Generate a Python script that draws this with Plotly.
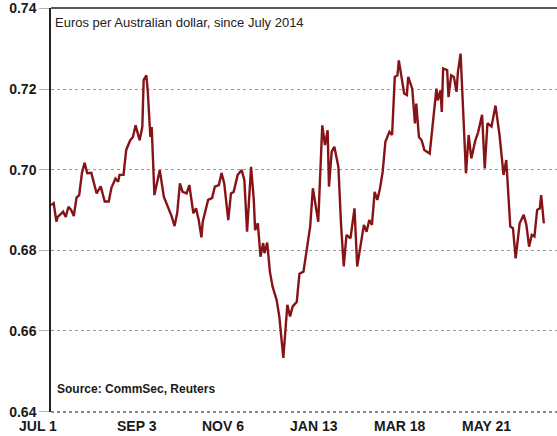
import plotly.graph_objects as go

# Euros per Australian dollar, July 2014 - July 2015
dates = [
    "2014-07-01", "2014-07-03", "2014-07-05", "2014-07-06", "2014-07-09", "2014-07-10",
    "2014-07-12", "2014-07-14", "2014-07-16", "2014-07-18", "2014-07-20", "2014-07-22",
    "2014-07-24", "2014-07-26", "2014-07-28", "2014-07-31", "2014-08-04", "2014-08-07",
    "2014-08-10", "2014-08-13", "2014-08-15", "2014-08-18", "2014-08-20", "2014-08-21",
    "2014-08-24", "2014-08-26", "2014-08-29", "2014-08-31", "2014-09-02", "2014-09-05",
    "2014-09-07", "2014-09-08", "2014-09-10", "2014-09-11", "2014-09-13", "2014-09-14",
    "2014-09-16", "2014-09-20", "2014-09-23", "2014-09-26", "2014-09-29", "2014-10-01",
    "2014-10-03", "2014-10-05", "2014-10-07", "2014-10-10", "2014-10-12", "2014-10-15",
    "2014-10-17", "2014-10-19", "2014-10-21", "2014-10-22", "2014-10-26", "2014-10-29",
    "2014-10-31", "2014-11-03", "2014-11-05", "2014-11-07", "2014-11-10", "2014-11-12",
    "2014-11-14", "2014-11-17", "2014-11-20", "2014-11-22", "2014-11-24", "2014-11-27",
    "2014-11-29", "2014-11-30", "2014-12-02", "2014-12-04", "2014-12-06", "2014-12-07",
    "2014-12-09", "2014-12-11", "2014-12-13", "2014-12-16", "2014-12-18", "2014-12-21",
    "2014-12-24", "2014-12-26", "2014-12-28", "2014-12-31", "2015-01-02", "2015-01-05",
    "2015-01-07", "2015-01-10", "2015-01-12", "2015-01-16", "2015-01-19", "2015-01-21",
    "2015-01-23", "2015-01-24", "2015-01-26", "2015-01-28", "2015-01-31", "2015-02-02",
    "2015-02-04", "2015-02-06", "2015-02-09", "2015-02-12", "2015-02-14", "2015-02-17",
    "2015-02-19", "2015-02-21", "2015-02-23", "2015-02-25", "2015-02-27", "2015-03-01",
    "2015-03-03", "2015-03-05", "2015-03-07", "2015-03-10", "2015-03-12", "2015-03-14",
    "2015-03-16", "2015-03-17", "2015-03-19", "2015-03-21", "2015-03-23", "2015-03-24",
    "2015-03-27", "2015-03-29", "2015-03-30", "2015-04-01", "2015-04-03", "2015-04-05",
    "2015-04-09", "2015-04-12", "2015-04-14", "2015-04-15", "2015-04-17", "2015-04-18",
    "2015-04-19", "2015-04-22", "2015-04-23", "2015-04-25", "2015-04-27", "2015-04-29",
    "2015-04-30", "2015-05-02", "2015-05-03", "2015-05-06", "2015-05-08", "2015-05-10",
    "2015-05-13", "2015-05-15", "2015-05-18", "2015-05-20", "2015-05-22", "2015-05-25",
    "2015-05-28", "2015-05-31", "2015-06-03", "2015-06-05", "2015-06-08", "2015-06-10",
    "2015-06-12", "2015-06-15", "2015-06-18", "2015-06-20", "2015-06-22", "2015-06-24",
    "2015-06-26", "2015-06-28", "2015-06-30", "2015-07-01", "2015-07-03",
]

eur_per_aud = [
    0.6912, 0.6917, 0.6871, 0.6883, 0.6892, 0.6896,
    0.6883, 0.6908, 0.6900, 0.6885, 0.6931, 0.6937,
    0.6991, 0.7017, 0.6991, 0.6992, 0.6941, 0.6959,
    0.6921, 0.6921, 0.6955, 0.6978, 0.6970, 0.6987,
    0.6987, 0.7049, 0.7073, 0.7081, 0.7110, 0.7073,
    0.7106, 0.7222, 0.7234, 0.7197, 0.7081, 0.7106,
    0.6937, 0.6999, 0.6933, 0.6908, 0.6883, 0.6860,
    0.6893, 0.6966, 0.6945, 0.6941, 0.6962, 0.6892,
    0.6904, 0.6875, 0.6832, 0.6871, 0.6925, 0.6930,
    0.6958, 0.6962, 0.6992, 0.6966, 0.6875, 0.6941,
    0.6945, 0.6987, 0.6999, 0.6974, 0.6846, 0.7007,
    0.6925, 0.6850, 0.6867, 0.6784, 0.6818, 0.6793,
    0.6819, 0.6747, 0.6710, 0.6677, 0.6636, 0.6533,
    0.6665, 0.6636, 0.6661, 0.6672, 0.6742, 0.6747,
    0.6797, 0.6859, 0.6954, 0.6871, 0.7110, 0.7061,
    0.7098, 0.6958, 0.7044, 0.7057, 0.7007, 0.6863,
    0.6760, 0.6838, 0.6830, 0.6904, 0.6760, 0.6826,
    0.6863, 0.6846, 0.6875, 0.6863, 0.6945, 0.6925,
    0.6954, 0.6995, 0.7069, 0.7094, 0.7086, 0.7230,
    0.7234, 0.7271, 0.7230, 0.7189, 0.7185, 0.7230,
    0.7201, 0.7115, 0.7164, 0.7081, 0.7073, 0.7049,
    0.7040, 0.7131, 0.7201, 0.7172, 0.7197, 0.7143,
    0.7251, 0.7247, 0.7180, 0.7234, 0.7230, 0.7193,
    0.7242, 0.7288, 0.7222, 0.6991, 0.7086, 0.7028,
    0.7073, 0.7092, 0.7136, 0.7003, 0.7115, 0.7107,
    0.7159, 0.7086, 0.6987, 0.7024, 0.6859, 0.6855,
    0.6780, 0.6867, 0.6888, 0.6863, 0.6809, 0.6838,
    0.6834, 0.6900, 0.6904, 0.6937, 0.6867,
]

y_ticks = [0.64, 0.66, 0.68, 0.70, 0.72, 0.74]
y_tick_labels = ["0.64", "0.66", "0.68", "0.70", "0.72", "0.74"]

x_tick_dates = ["2014-07-01", "2014-09-03", "2014-11-06", "2015-01-13", "2015-03-18", "2015-05-21"]
x_tick_labels = ["JUL 1", "SEP 3", "NOV 6", "JAN 13", "MAR 18", "MAY 21"]

subtitle = "Euros per Australian dollar, since July 2014"
source = "Source: CommSec, Reuters"

fig = go.Figure()
fig.add_trace(go.Scatter(
    x=dates, y=eur_per_aud, mode="lines",
    line=dict(color="#861417", width=2.4),
    hoverinfo="x+y", showlegend=False,
))

label_font = dict(family="Arial, Liberation Sans, sans-serif", size=14, color="#1a1a1a")

annotations = []
for i, (d, t) in enumerate(zip(x_tick_dates, x_tick_labels)):
    annotations.append(dict(
        x=d, xref="x", y=0, yref="paper", yshift=-14,
        xshift=-13 if i == 0 else 0,
        text="<b>%s</b>" % t, showarrow=False,
        xanchor="center", yanchor="middle", font=label_font,
    ))
annotations.append(dict(
    x=0, xref="paper", xshift=2, y=1, yref="paper", yshift=-14,
    text=subtitle, showarrow=False, xanchor="left", yanchor="middle",
    font=dict(family="Arial, Liberation Sans, sans-serif", size=13, color="#222222"),
))
annotations.append(dict(
    x=0, xref="paper", xshift=4, y=0, yref="paper", yshift=23,
    text="<b>%s</b>" % source, showarrow=False, xanchor="left", yanchor="middle",
    font=dict(family="Arial, Liberation Sans, sans-serif", size=12, color="#1a1a1a"),
))

fig.update_layout(
    width=557, height=436,
    margin=dict(l=51, r=0, t=8, b=24),
    paper_bgcolor="white", plot_bgcolor="white",
    annotations=annotations,
    shapes=[
        dict(type="line", xref="paper", yref="paper", x0=0, x1=1, y0=1, y1=1,
             line=dict(color="#222222", width=1.5)),
        dict(type="line", xref="paper", yref="paper", x0=0, x1=1, y0=0, y1=0,
             line=dict(color="#8a8a8a", width=2, dash="dot")),
    ],
    xaxis=dict(
        type="date",
        range=["2014-07-01", "2015-07-12 19:00"],
        showgrid=False, zeroline=False, showticklabels=False,
        showline=False, ticks="",
    ),
    yaxis=dict(
        range=[0.6399, 0.7401],
        tickvals=y_ticks, ticktext=["<b>%s</b>" % t for t in y_tick_labels],
        tickfont=label_font,
        showgrid=True, gridcolor="#9a9a9a", gridwidth=1, griddash="dot",
        zeroline=False,
        showline=True, linecolor="#222222", linewidth=1.5,
        ticks="outside", ticklen=10, tickcolor="#b0b0b0", tickwidth=1,
    ),
)

fig.write_html(
    "out.html",
    config={"displayModeBar": False},
    post_script="document.body.style.margin='0';document.body.style.overflow='hidden';",
)
